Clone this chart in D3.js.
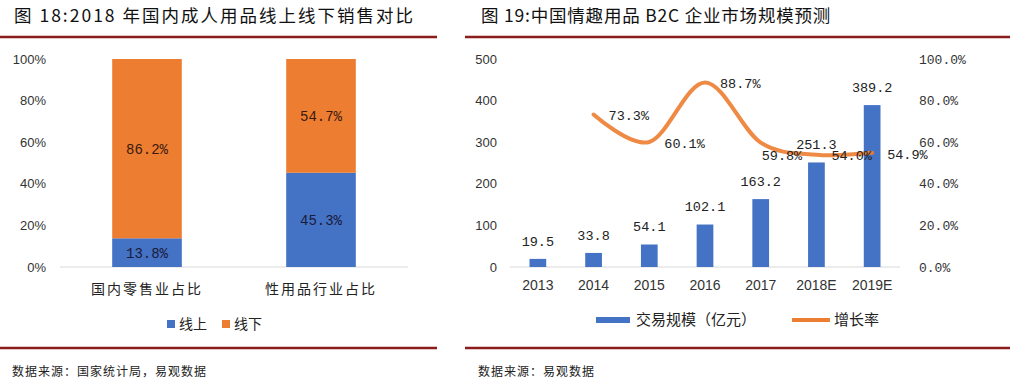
<!DOCTYPE html>
<html>
<head>
<meta charset="utf-8">
<script src="https://cdn.jsdelivr.net/npm/d3@7"></script>
<style>
body { margin: 0; background: #fff; }
svg { display: block; }
</style>
</head>
<body>
<script>
// left chart data
var leftCats = ["国内零售业占比", "性用品行业占比"];
var online = [0.138, 0.453];
var offline = [0.862, 0.547];
var leftTicks = [0, 0.2, 0.4, 0.6, 0.8, 1];

// right chart data
var years = ["2013", "2014", "2015", "2016", "2017", "2018E", "2019E"];
var scale = [19.5, 33.8, 54.1, 102.1, 163.2, 251.3, 389.2];
var growth = [null, 0.733, 0.601, 0.887, 0.598, 0.540, 0.549];
var rightTicks = [0, 100, 200, 300, 400, 500];
var rateTicks = [0, 0.2, 0.4, 0.6, 0.8, 1];

var blue = "#4472C4", orange = "#ED7D31", red = "#8C1C1C";
var mono = "'Liberation Mono', monospace";
var sans = "'Liberation Sans', Arial, sans-serif";
var cjk = "'Noto Sans CJK SC', sans-serif";

var svg = d3.select("body").append("svg")
	.attr("width", 1010)
	.attr("height", 386);

// titles and rules
svg.append("text").attr("x", 14).attr("y", 22)
	.style("font-family", cjk).style("font-size", "17.5px").style("letter-spacing", "2px")
	.attr("fill", "#111").text("图 18:2018 年国内成人用品线上线下销售对比");
svg.append("text").attr("x", 481).attr("y", 22)
	.style("font-family", cjk).style("font-size", "17.5px").style("letter-spacing", "0.8px")
	.attr("fill", "#111").text("图 19:中国情趣用品 B2C 企业市场规模预测");

[[0, 437, 37], [465, 1010, 37], [0, 437, 348], [465, 1010, 348]].forEach(function(r) {
	svg.append("line").attr("x1", r[0]).attr("x2", r[1]).attr("y1", r[2]).attr("y2", r[2])
		.attr("stroke", red).attr("stroke-width", 2.5);
});

svg.append("text").attr("x", 12).attr("y", 376)
	.style("font-family", cjk).style("font-size", "12px").style("letter-spacing", "1px")
	.attr("fill", "#222").text("数据来源：国家统计局，易观数据");
svg.append("text").attr("x", 478).attr("y", 376)
	.style("font-family", cjk).style("font-size", "12px").style("letter-spacing", "1px")
	.attr("fill", "#222").text("数据来源：易观数据");

// ---------- left chart ----------
var x1 = d3.scaleBand().domain(leftCats).range([60, 408]).paddingInner(0.6).paddingOuter(0.3);
var yL = d3.scaleLinear().domain([0, 1]).range([267, 59]);

var gl = svg.append("g");
gl.append("line").attr("x1", 60).attr("x2", 408).attr("y1", yL(0)).attr("y2", yL(0))
	.attr("stroke", "#d9d9d9");

var yAxisL = d3.axisLeft(yL).tickValues(leftTicks).tickFormat(d3.format(".0%")).tickSize(0).tickPadding(0);
gl.append("g").attr("transform", "translate(46,0)").call(yAxisL)
	.call(function(g) { g.select(".domain").remove(); })
	.selectAll("text").style("font-family", sans).style("font-size", "13px").attr("fill", "#333");

gl.selectAll(".on").data(online).enter().append("rect")
	.attr("x", function(d, i) { return x1(leftCats[i]); })
	.attr("width", x1.bandwidth())
	.attr("y", function(d) { return yL(d); })
	.attr("height", function(d) { return yL(0) - yL(d); })
	.attr("fill", blue);
gl.selectAll(".off").data(offline).enter().append("rect")
	.attr("x", function(d, i) { return x1(leftCats[i]); })
	.attr("width", x1.bandwidth())
	.attr("y", function(d, i) { return yL(online[i] + d); })
	.attr("height", function(d, i) { return yL(online[i]) - yL(online[i] + d); })
	.attr("fill", orange);

gl.selectAll(".onl").data(online).enter().append("text")
	.attr("x", function(d, i) { return x1(leftCats[i]) + x1.bandwidth() / 2; })
	.attr("y", function(d) { return yL(d / 2); })
	.attr("dy", "0.35em").attr("text-anchor", "middle")
	.style("font-family", mono).style("font-size", "14px").attr("fill", "#1a1a3a")
	.text(function(d) { return d3.format(".1%")(d); });
gl.selectAll(".offl").data(offline).enter().append("text")
	.attr("x", function(d, i) { return x1(leftCats[i]) + x1.bandwidth() / 2; })
	.attr("y", function(d, i) { return yL(online[i] + d / 2); })
	.attr("dy", "0.35em").attr("text-anchor", "middle")
	.style("font-family", mono).style("font-size", "14px").attr("fill", "#3a1a10")
	.text(function(d) { return d3.format(".1%")(d); });

gl.selectAll(".cat").data(leftCats).enter().append("text")
	.attr("x", function(d) { return x1(d) + x1.bandwidth() / 2; })
	.attr("y", 289).attr("dy", "0.35em").attr("text-anchor", "middle")
	.style("font-family", cjk).style("font-size", "14px").style("letter-spacing", "2px")
	.attr("fill", "#222").text(function(d) { return d; });

// left legend
[["线上", blue, 167], ["线下", orange, 222]].forEach(function(l) {
	gl.append("rect").attr("x", l[2]).attr("y", 320).attr("width", 8).attr("height", 8).attr("fill", l[1]);
	gl.append("text").attr("x", l[2] + 12).attr("y", 324).attr("dy", "0.35em")
		.style("font-family", cjk).style("font-size", "14px").attr("fill", "#222").text(l[0]);
});

// ---------- right chart ----------
var x2 = d3.scaleBand().domain(years).range([510, 900]).paddingInner(0.7).paddingOuter(0.35);
var yR = d3.scaleLinear().domain([0, 500]).range([267, 59]);
var yG = d3.scaleLinear().domain([0, 1]).range([267, 59]);

var gr = svg.append("g");
gr.append("line").attr("x1", 510).attr("x2", 900).attr("y1", yR(0)).attr("y2", yR(0))
	.attr("stroke", "#d9d9d9");

gr.append("g").attr("transform", "translate(497,0)")
	.call(d3.axisLeft(yR).tickValues(rightTicks).tickSize(0).tickPadding(0))
	.call(function(g) { g.select(".domain").remove(); })
	.selectAll("text").style("font-family", sans).style("font-size", "13px").attr("fill", "#333");

gr.append("g").attr("transform", "translate(919,0)")
	.call(d3.axisRight(yG).tickValues(rateTicks).tickFormat(d3.format(".1%")).tickSize(0).tickPadding(0))
	.call(function(g) { g.select(".domain").remove(); })
	.selectAll("text").style("font-family", mono).style("font-size", "13px").attr("fill", "#333");

gr.append("g").attr("transform", "translate(0,285)")
	.call(d3.axisBottom(x2).tickSize(0).tickPadding(0))
	.call(function(g) { g.select(".domain").remove(); })
	.selectAll("text").attr("dy", "0.35em")
	.style("font-family", sans).style("font-size", "14px").attr("fill", "#333");

gr.selectAll(".bar").data(scale).enter().append("rect")
	.attr("x", function(d, i) { return x2(years[i]); })
	.attr("width", x2.bandwidth())
	.attr("y", function(d) { return yR(d); })
	.attr("height", function(d) { return yR(0) - yR(d); })
	.attr("fill", blue);

gr.selectAll(".barl").data(scale).enter().append("text")
	.attr("x", function(d, i) { return x2(years[i]) + x2.bandwidth() / 2; })
	.attr("y", function(d) { return yR(d) - 18; })
	.attr("dy", "0.35em").attr("text-anchor", "middle")
	.style("font-family", mono).style("font-size", "13.5px").attr("fill", "#222")
	.text(function(d) { return d3.format(".1f")(d); });

var pts = growth.map(function(d, i) { return { x: x2(years[i]) + x2.bandwidth() / 2, v: d }; })
	.filter(function(p) { return p.v !== null; });

var line = d3.line()
	.x(function(p) { return p.x; })
	.y(function(p) { return yG(p.v); })
	.curve(d3.curveCardinal.tension(0));

gr.append("path").datum(pts).attr("d", line)
	.attr("fill", "none").attr("stroke", orange).attr("stroke-width", 4)
	.attr("stroke-linecap", "round").attr("opacity", 0.9);

gr.selectAll(".ratel").data(pts).enter().append("text")
	.attr("x", function(p, i) { return p.x + (i === 3 ? 1 : 15); })
	.attr("y", function(p, i) { return yG(p.v) + (i === 3 ? 13 : 1); })
	.attr("dy", "0.35em")
	.style("font-family", mono).style("font-size", "13.5px").attr("fill", "#222")
	.text(function(p) { return d3.format(".1%")(p.v); });

// right legend
gr.append("rect").attr("x", 596).attr("y", 317).attr("width", 34).attr("height", 6).attr("fill", blue);
gr.append("text").attr("x", 636).attr("y", 320).attr("dy", "0.35em")
	.style("font-family", cjk).style("font-size", "15px").attr("fill", "#222").text("交易规模（亿元）");
gr.append("line").attr("x1", 792).attr("x2", 830).attr("y1", 320).attr("y2", 320)
	.attr("stroke", orange).attr("stroke-width", 4);
gr.append("text").attr("x", 834).attr("y", 320).attr("dy", "0.35em")
	.style("font-family", cjk).style("font-size", "15px").attr("fill", "#222").text("增长率");
</script>
</body>
</html>
